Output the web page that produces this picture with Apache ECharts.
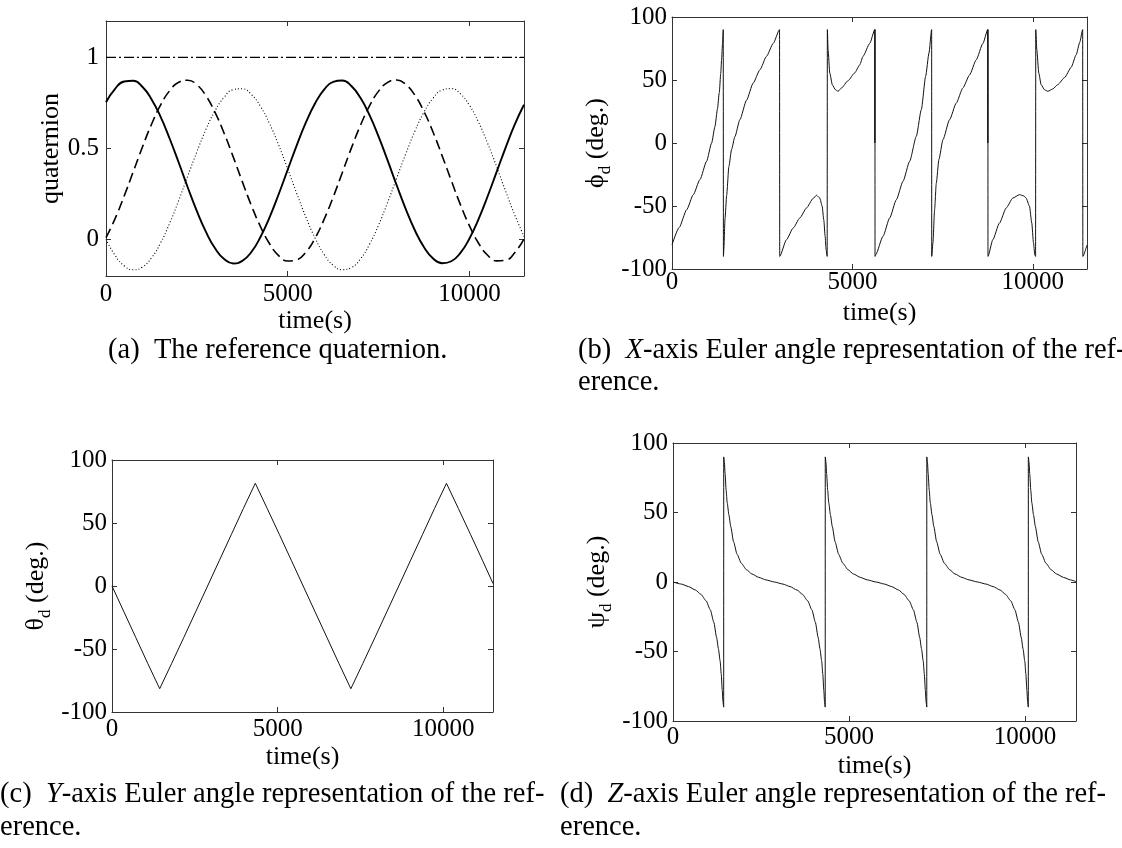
<!DOCTYPE html>
<html><head><meta charset="utf-8">
<script src="https://cdn.jsdelivr.net/npm/echarts@6/dist/echarts.min.js"></script>
<style>html,body{margin:0;padding:0;background:#fff}#c{width:1122px;height:848px}</style>
</head><body><div id="c"></div>
<script>
// ---------- data ----------
const qTime = [0,250,500,750,1000,1250,1500,1750,2000,2250,2500,2750,3000,3250,3500,3750,4000,4250,4500,4750,5000,5250,5500,5750,6000,6250,6500,6750,7000,7250,7500,7750,8000,8250,8500,8750,9000,9250,9500,9750,10000,10250,10500,10750,11000,11250,11500];
const qSolid = [0.754,0.828,0.868,0.872,0.839,0.771,0.675,0.555,0.423,0.286,0.156,0.042,-0.048,-0.107,-0.131,-0.117,-0.068,0.014,0.122,0.249,0.384,0.519,0.643,0.747,0.823,0.866,0.873,0.843,0.778,0.683,0.565,0.433,0.297,0.166,0.050,-0.042,-0.104,-0.130,-0.119,-0.073,0.006,0.112,0.238,0.373,0.508,0.634,0.740];
const qDashed = [0.011,0.115,0.239,0.373,0.507,0.632,0.738,0.817,0.864,0.875,0.850,0.789,0.698,0.584,0.454,0.318,0.187,0.071,-0.023,-0.088,-0.118,-0.111,-0.069,0.007,0.111,0.233,0.367,0.502,0.627,0.734,0.815,0.863,0.876,0.851,0.792,0.702,0.589,0.459,0.324,0.192,0.075,-0.020,-0.086,-0.117,-0.113,-0.071,0.004];
const qDotted = [0.001,-0.087,-0.144,-0.166,-0.151,-0.101,-0.019,0.089,0.215,0.349,0.482,0.605,0.707,0.781,0.823,0.828,0.796,0.731,0.636,0.519,0.387,0.252,0.123,0.009,-0.081,-0.141,-0.165,-0.154,-0.106,-0.026,0.080,0.205,0.339,0.472,0.596,0.700,0.777,0.821,0.829,0.800,0.737,0.644,0.528,0.399,0.263,0.133,0.017];
const qScalarTime = [0,11500];
const qScalar = [1,1];

const phiData = [[0,-80.7],[200,-67],[406,-53],[590,-41],[775,-29],[959,-14.5],[1098,0],[1190,13],[1260,27],[1310,40],[1350,55],[1374,66],[1400,79],[1420,90],
[1425,-90],[1435,-85],[1470,-60],[1513,-42],[1577,-18.5],[1651,-5],[1743,5],[1881,18.5],[2066,34],[2250,47.6],[2435,58],[2619,68.8],[2804,79],[2980,90],
[2985,-90],[3173,-76.7],[3357,-67.5],[3542,-59.5],[3726,-51.6],[3911,-44],[4003,-41.5],[4095,-43.7],[4160,-50],[4206,-61],[4243,-74],[4271,-84.7],[4300,-90],
[4305,90],[4325,74],[4372,55.6],[4445,46],[4528,42.3],[4602,41],[4695,43.6],[4879,49.5],[5063,55.6],[5202,62],[5294,68.8],[5479,79],[5620,90],
[5622,0],[5624,90],[5626,-90],
[5645,-88.6],[5848,-74],[6032,-59.5],[6217,-45],[6401,-30.4],[6586,-14.5],[6770,5.3],[6909,26.5],[7029,53],[7121,71.4],[7195,90],
[7197,-90],[7231,-79],[7277,-53],[7323,-32],[7397,-13],[7508,2.6],[7692,18.5],[7877,31.7],[8061,43.7],[8246,54],[8430,66],[8615,79],[8750,90],
[8752,0],[8754,90],[8756,-90],
[8891,-76.7],[9075,-63.5],[9260,-51.6],[9444,-43.7],[9629,-41],[9750,-42],[9813,-43.7],[9905,-50],[9970,-63.5],[10016,-79],[10053,-88.6],[10075,-90],
[10080,90],[10109,74],[10164,55.6],[10229,46.3],[10321,42.3],[10413,41],[10551,42.9],[10690,46.3],[10880,52],[11060,60],[11200,70],[11300,80],[11380,90],
[11385,-90],[11500,-81]];

const thetaData = [[0,0],[360,-20.5],[720,-41],[1080,-61.5],[1400,-79.3],[1440,-81.5],[1480,-79.3],[1800,-61.5],[2165,-41],[2525,-20.5],
[2885,0],[3245,20.5],[3605,41],[3965,61.5],[4285,79.3],[4325,81.5],[4365,79.3],[4685,61.5],[5050,41],[5410,20.5],
[5770,0],[6130,-20.5],[6490,-41],[6850,-61.5],[7170,-79.3],[7210,-81.5],[7250,-79.3],[7570,-61.5],[7935,-41],[8295,-20.5],
[8655,0],[9015,20.5],[9375,41],[9735,61.5],[10055,79.3],[10095,81.5],[10135,79.3],[10455,61.5],[10820,41],[11180,20.5],[11500,2]];

const psiData = [[0,0],[240,-1.5],[440,-3.3],[640,-5.8],[790,-8.8],[940,-13.5],[1060,-20],[1160,-29],[1240,-40],[1290,-48],[1340,-57],[1370,-66],[1400,-78],[1420,-86],[1440,-90],
[1441,90],[1460,86],[1480,78],[1510,66],[1540,57],[1590,48],[1640,40],[1720,29],[1820,20],[1940,13.5],[2090,8.8],[2240,5.8],[2440,3.3],[2640,1.5],[2882,0],
[3125,-1.5],[3325,-3.3],[3525,-5.8],[3675,-8.8],[3825,-13.5],[3945,-20],[4045,-29],[4125,-40],[4175,-48],[4225,-57],[4255,-66],[4285,-78],[4305,-86],[4325,-90],
[4326,90],[4345,86],[4365,78],[4395,66],[4425,57],[4475,48],[4525,40],[4605,29],[4705,20],[4825,13.5],[4975,8.8],[5125,5.8],[5325,3.3],[5525,1.5],[5768,0],
[6010,-1.5],[6210,-3.3],[6410,-5.8],[6560,-8.8],[6710,-13.5],[6830,-20],[6930,-29],[7010,-40],[7060,-48],[7110,-57],[7140,-66],[7170,-78],[7190,-86],[7210,-90],
[7211,90],[7230,86],[7250,78],[7280,66],[7310,57],[7360,48],[7410,40],[7490,29],[7590,20],[7710,13.5],[7860,8.8],[8010,5.8],[8210,3.3],[8410,1.5],[8652,0],
[8895,-1.5],[9095,-3.3],[9295,-5.8],[9445,-8.8],[9595,-13.5],[9715,-20],[9815,-29],[9895,-40],[9945,-48],[9995,-57],[10025,-66],[10055,-78],[10075,-86],[10095,-90],
[10096,90],[10115,86],[10135,78],[10165,66],[10195,57],[10245,48],[10295,40],[10375,29],[10475,20],[10595,13.5],[10745,8.8],[10895,5.8],[11095,3.3],[11295,1.5],[11450,0.3]];

const xTicks = [0,5000,10000];
const qTicks = [0,0.5,1];
const degTicks = [-100,-50,0,50,100];
const xName = 'time(s)';
const yNames = ['quaternion','{g|ϕ}{s|d}{n| (deg.)}','{g|θ}{s|d}{n| (deg.)}','{g|ψ}{s|d}{n| (deg.)}'];
const captions = [
  {x:108, y:351, text:'{n|(a)  The reference quaternion.}'},
  {x:578, y:351, text:'{n|(b)  }{i|X}{n|-axis Euler angle representation of the ref-}'},
  {x:578, y:383, text:'{n|erence.}'},
  {x:0, y:795, text:'{n|(c)  }{i|Y}{n|-axis Euler angle representation of the ref-}'},
  {x:0, y:828, text:'{n|erence.}'},
  {x:560, y:795, text:'{n|(d)  }{i|Z}{n|-axis Euler angle representation of the ref-}'},
  {x:560, y:828, text:'{n|erence.}'}
];

// ---------- layout ----------
const FONT = 'Liberation Serif';
const AX = '#333';
const grids = [
  {left:106, top:21, width:418, height:255},
  {left:672, top:17, width:415, height:252},
  {left:112, top:460, width:381, height:252},
  {left:673, top:443, width:403, height:278}
];
const xMax = [11500,11500,11500,11450];
const yRange = [[-0.2,1.2],[-100,100],[-100,100],[-100,100]];
const yTickSets = [qTicks,degTicks,degTicks,degTicks];
const xLabelMargin = [6,1,5,4];
const xNameGap = [28,31,32,32];
const yNameGap = [42,58,58,58];
const captionSize = 28.5;

const nameRich = {
  g:{fontFamily:FONT,fontSize:26,lineHeight:36,verticalAlign:'middle'},
  s:{fontFamily:FONT,fontSize:17,lineHeight:36,verticalAlign:'bottom'},
  n:{fontFamily:FONT,fontSize:26,lineHeight:36,verticalAlign:'middle'}
};

const xAxis = [], yAxis = [];
grids.forEach((g,i)=>{
  const line = {show:true,onZero:false,lineStyle:{color:AX,width:1}};
  xAxis.push({type:'value',gridIndex:i,min:0,max:xMax[i],position:'bottom',
    axisLine:line,
    axisTick:{show:true,inside:true,length:5,customValues:xTicks,lineStyle:{color:AX}},
    axisLabel:{show:true,customValues:xTicks,margin:xLabelMargin[i],fontFamily:FONT,fontSize:25,color:'#000',formatter:v=>String(v)},
    splitLine:{show:false},
    name:xName,nameLocation:'middle',nameGap:xNameGap[i],
    nameTextStyle:{fontFamily:FONT,fontSize:26,color:'#000'}});
  xAxis.push({type:'value',gridIndex:i,min:0,max:xMax[i],position:'top',
    axisLine:line,
    axisTick:{show:true,inside:true,length:5,customValues:xTicks,lineStyle:{color:AX}},
    axisLabel:{show:false},splitLine:{show:false}});
  yAxis.push({type:'value',gridIndex:i,min:yRange[i][0],max:yRange[i][1],position:'left',
    axisLine:line,
    axisTick:{show:true,inside:true,length:5,customValues:yTickSets[i],lineStyle:{color:AX}},
    axisLabel:{show:true,customValues:yTickSets[i],margin:i===0?7:5,fontFamily:FONT,fontSize:25,color:'#000',formatter:v=>String(v)},
    splitLine:{show:false},
    name:yNames[i],nameLocation:'middle',nameRotate:90,nameGap:yNameGap[i],
    nameTextStyle:{fontFamily:FONT,fontSize:26,color:'#000',rich:nameRich}});
  yAxis.push({type:'value',gridIndex:i,min:yRange[i][0],max:yRange[i][1],position:'right',
    axisLine:line,
    axisTick:{show:true,inside:true,length:5,customValues:yTickSets[i],lineStyle:{color:AX}},
    axisLabel:{show:false},splitLine:{show:false}});
});

const zip = (t,v)=>t.map((x,k)=>[x,v[k]]);
const base = {type:'line',showSymbol:false,symbol:'none',silent:true,animation:false};
const series = [
  Object.assign({},base,{xAxisIndex:0,yAxisIndex:0,data:zip(qScalarTime,qScalar),lineStyle:{color:'#000',width:1.3,type:[10,3,2,3]}}),
  Object.assign({},base,{xAxisIndex:0,yAxisIndex:0,smooth:true,data:zip(qTime,qSolid),lineStyle:{color:'#000',width:1.9}}),
  Object.assign({},base,{xAxisIndex:0,yAxisIndex:0,smooth:true,data:zip(qTime,qDashed),lineStyle:{color:'#000',width:1.6,type:[10,5]}}),
  Object.assign({},base,{xAxisIndex:0,yAxisIndex:0,smooth:true,data:zip(qTime,qDotted),lineStyle:{color:'#000',width:1.1,type:[1,2.2]}}),
  Object.assign({},base,{xAxisIndex:2,yAxisIndex:2,smooth:0.2,smoothMonotone:'x',data:phiData,lineStyle:{color:'#111',width:1}}),
  Object.assign({},base,{xAxisIndex:4,yAxisIndex:4,smooth:false,data:thetaData,lineStyle:{color:'#111',width:1}}),
  Object.assign({},base,{xAxisIndex:6,yAxisIndex:6,smooth:0.2,smoothMonotone:'x',data:psiData,lineStyle:{color:'#111',width:1}})
];

const graphic = captions.map(c=>({type:'text',x:c.x,y:c.y,silent:true,
  style:{text:c.text,verticalAlign:'middle',align:'left',fill:'#000',
    rich:{n:{fontFamily:FONT,fontSize:captionSize,fill:'#000'},i:{fontFamily:FONT,fontSize:captionSize,fontStyle:'italic',fill:'#000'}}}}));

const chart = echarts.init(document.getElementById('c'),null,{renderer:'canvas'});
chart.setOption({backgroundColor:'#fff',animation:false,grid:grids,xAxis,yAxis,series,graphic});
</script></body></html>
